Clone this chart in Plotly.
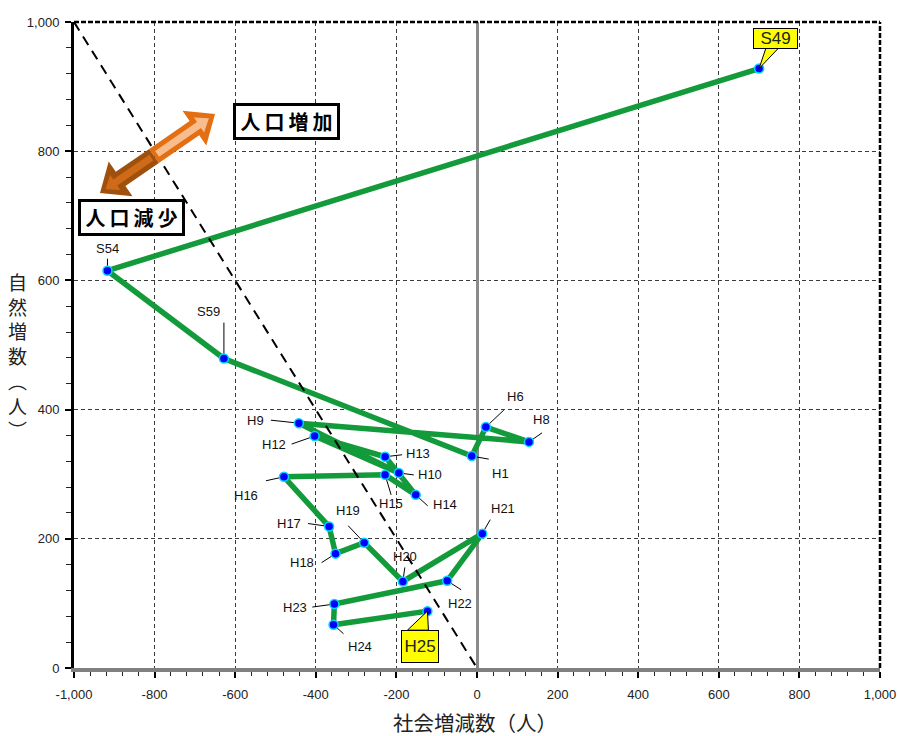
import math
import plotly.graph_objects as go

# ---------------- data ----------------
labels = ["S49", "S54", "S59", "H1", "H6", "H8", "H9", "H10", "H12", "H13", "H14",
          "H15", "H16", "H17", "H18", "H19", "H20", "H21", "H22", "H23", "H24", "H25"]
social_change = [700, -917, -628, -13, 22, 129, -442, -194, -403, -228, -152,
                 -228, -479, -367, -351, -280, -184, 13, -74, -354, -356, -123]
natural_change = [928, 615, 479, 328, 373, 350, 379, 302, 359, 327, 268,
                  299, 296, 219, 177, 194, 134, 208, 135, 99, 67, 88]

x_tick_values = [-1000, -800, -600, -400, -200, 0, 200, 400, 600, 800, 1000]
x_tick_text = ["-1,000", "-800", "-600", "-400", "-200", "0", "200", "400", "600", "800", "1,000"]
y_tick_values = [0, 200, 400, 600, 800, 1000]
y_tick_text = ["0", "200", "400", "600", "800", "1,000"]

# break-even line: social + natural = 0
balance_x = [-1000, 0]
balance_y = [-v for v in balance_x]

callout_labels = ["S49", "H25"]

# ---------------- label placement (pixel offsets: text dx,dy ; leader start dx,dy) ----------------
label_offsets = {
    "S54": (0, 22, 0, 12),
    "S59": (-15, 47, 0, 36),
    "H1": (29, -17, 17, -3),
    "H6": (30, 31, 18, 17),
    "H8": (13, 22, 13, 9),
    "H9": (-43, 3, -28, 3),
    "H10": (31, -2, 15, -2),
    "H12": (-41, -8, -23, -8),
    "H13": (33, 3, 17, 2),
    "H14": (29, -10, 12, -11),
    "H15": (6, -29, 6, -20),
    "H16": (-38, -19, -18, -4),
    "H17": (-40, 3, -21, 3),
    "H18": (-34, -9, -14, -9),
    "H19": (-16, 32, -16, 17),
    "H20": (2, 25, 2, 14),
    "H21": (21, 25, 8, 14),
    "H22": (13, -23, 14, -9),
    "H23": (-39, -3, -22, -3),
    "H24": (26, -22, 10, -9),
}
# callout: box centre offset, box size, wedge base
callout_style = {
    "S49": dict(dx=16, dy=30, w=41, h=17, wedge=[(7, 21), (20, 21)]),
    "H25": dict(dx=-7, dy=-35, w=34, h=29, wedge=[(-20, -19), (1, -19)]),
}

LINE_GREEN = "#129A3B"
FONT_LAT = "Liberation Sans, Arial, sans-serif"
FONT_JP = "Noto Sans CJK JP, sans-serif"

fig = go.Figure()

fig.add_trace(go.Scatter(
    x=social_change, y=natural_change, mode="lines",
    line=dict(color=LINE_GREEN, width=5.5), hoverinfo="skip"))
fig.add_trace(go.Scatter(
    x=balance_x, y=balance_y, mode="lines",
    line=dict(color="black", width=2, dash="10px,7px"), hoverinfo="skip"))
fig.add_trace(go.Scatter(
    x=social_change, y=natural_change, mode="markers", text=labels,
    marker=dict(color="#0000FF", size=9, line=dict(color="#00D8FF", width=1.5))))

shapes = []
annotations = []

# point labels + leader lines
for lab, xv, yv in zip(labels, social_change, natural_change):
    if lab in label_offsets:
        tdx, tdy, ldx, ldy = label_offsets[lab]
        annotations.append(dict(
            x=xv, y=yv, xref="x", yref="y", text=lab, showarrow=False,
            xshift=tdx, yshift=tdy, xanchor="center", yanchor="middle",
            font=dict(family=FONT_LAT, size=13, color="#111")))
        shapes.append(dict(
            type="line", xref="x", yref="y", xsizemode="pixel", ysizemode="pixel",
            xanchor=xv, yanchor=yv, x0=ldx, y0=ldy, x1=0, y1=0,
            line=dict(color="black", width=1), layer="between"))
    if lab in callout_labels:
        st = callout_style[lab]
        (ax1, ay1), (ax2, ay2) = st["wedge"]
        shapes.append(dict(
            type="path", xref="x", yref="y", xsizemode="pixel", ysizemode="pixel",
            xanchor=xv, yanchor=yv, path=f"M0,0 L{ax1},{ay1} L{ax2},{ay2} Z",
            fillcolor="#FFFF00", line=dict(color="black", width=1), layer="above"))
        annotations.append(dict(
            x=xv, y=yv, xref="x", yref="y", text=lab, showarrow=False,
            xshift=st["dx"], yshift=st["dy"], xanchor="center", yanchor="middle",
            width=st["w"], height=st["h"], bgcolor="#FFFF00", bordercolor="black",
            borderwidth=1, borderpad=1,
            font=dict(family=FONT_LAT, size=17, color="#222")))

# plot-area geometry in pixels
PL, PT, PW, PH = 74, 22, 806, 646


def arrow_poly(tail, tip, half_shaft, half_head, head_len):
    dx, dy = tip[0] - tail[0], tip[1] - tail[1]
    ln = math.hypot(dx, dy)
    ux, uy = dx / ln, dy / ln
    nx, ny = -uy, ux
    bx, by = tip[0] - ux * head_len, tip[1] - uy * head_len
    pts = [
        (tail[0] + nx * half_shaft, tail[1] + ny * half_shaft),
        (bx + nx * half_shaft, by + ny * half_shaft),
        (bx + nx * half_head, by + ny * half_head),
        tip,
        (bx - nx * half_head, by - ny * half_head),
        (bx - nx * half_shaft, by - ny * half_shaft),
        (tail[0] - nx * half_shaft, tail[1] - ny * half_shaft),
    ]
    return "M" + " L".join(f"{p[0] - PL:.1f},{PT - p[1]:.1f}" for p in pts) + " Z"


def inset(a, b, t):
    return (a[0] + (b[0] - a[0]) * t, a[1] + (b[1] - a[1]) * t)


up_tip = (215, 114)
low_tip = (100, 193)
mid = inset(low_tip, up_tip, 0.47)

arrow_parts = [
    (arrow_poly(mid, up_tip, 8.5, 21, 25), "#E46F12"),
    (arrow_poly(mid, low_tip, 8.5, 21, 25), "#A0500D"),
    (arrow_poly(inset(mid, up_tip, 0.05), inset(up_tip, mid, 0.1), 3.5, 9, 12), "#F9BC8C"),
    (arrow_poly(inset(mid, low_tip, 0.05), inset(low_tip, mid, 0.1), 3.5, 9, 12), "#CF6A18"),
]
for path, col in arrow_parts:
    shapes.append(dict(
        type="path", xref="paper", yref="paper", xsizemode="pixel", ysizemode="pixel",
        xanchor=0, yanchor=1, path=path, fillcolor=col, line=dict(width=0), layer="above"))

# top / right dashed frame
shapes.append(dict(type="line", xref="paper", yref="paper", x0=0, x1=1, y0=1, y1=1,
                   line=dict(color="black", width=2.5, dash="5px,2px"), layer="above"))
shapes.append(dict(type="line", xref="paper", yref="paper", x0=1, x1=1, y0=0, y1=1,
                   line=dict(color="black", width=2.5, dash="5px,2px"), layer="above"))


def paper_x(px):
    return (px - PL) / PW


def paper_y(py):
    return (PT + PH - py) / PH


# boxed captions
for txt, cx, cy in [("人\u2009口\u2009増\u2009加", 286.5, 121.5), ("人\u2009口\u2009減\u2009少", 131, 217.5)]:
    annotations.append(dict(
        x=paper_x(cx), y=paper_y(cy), xref="paper", yref="paper", text=txt,
        showarrow=False, xanchor="center", yanchor="middle",
        width=101, height=31, bgcolor="white", bordercolor="black",
        borderwidth=3, borderpad=0,
        font=dict(family=FONT_JP, size=20, color="black", weight="bold")))

# axis titles
annotations.append(dict(
    x=paper_x(475), y=paper_y(722), xref="paper", yref="paper",
    text="社会増減数（人）", showarrow=False, xanchor="center", yanchor="middle",
    font=dict(family=FONT_JP, size=20.5, color="#222")))
annotations.append(dict(
    x=paper_x(17), y=paper_y(355), xref="paper", yref="paper",
    text="自<br>然<br>増<br>数<br>︵<br>人<br>︶", showarrow=False,
    xanchor="center", yanchor="middle",
    font=dict(family=FONT_JP, size=19, color="#222")))

grid_common = dict(showgrid=True, gridcolor="#3a3a3a", gridwidth=1, griddash="4px,3px")

fig.update_layout(
    template="none",
    width=899, height=736,
    margin=dict(l=PL, r=899 - PL - PW, t=PT, b=736 - PT - PH, autoexpand=False),
    paper_bgcolor="white", plot_bgcolor="white",
    showlegend=False,
    shapes=shapes, annotations=annotations,
    xaxis=dict(
        automargin=False,
        range=[-1000, 1000], tickmode="array", tickvals=x_tick_values, ticktext=x_tick_text,
        **grid_common,
        zeroline=True, zerolinecolor="#8a8a8a", zerolinewidth=3,
        showline=True, linecolor="#808080", linewidth=4,
        ticks="outside", ticklen=6, tickwidth=2, tickcolor="black",
        minor=dict(dtick=40, tick0=0, ticks="outside", ticklen=4, tickwidth=1,
                   tickcolor="#222", showgrid=False),
        tickfont=dict(family=FONT_LAT, size=13, color="#222"),
        ticklabelstandoff=5, fixedrange=True),
    yaxis=dict(
        automargin=False,
        range=[0, 1000], tickmode="array", tickvals=y_tick_values, ticktext=y_tick_text,
        **grid_common,
        zeroline=False,
        showline=True, linecolor="black", linewidth=3,
        ticks="outside", ticklen=6, tickwidth=2, tickcolor="black",
        minor=dict(dtick=40, tick0=0, ticks="outside", ticklen=5, tickwidth=1,
                   tickcolor="#222", showgrid=False),
        tickfont=dict(family=FONT_LAT, size=13, color="#222"),
        ticklabelstandoff=3, fixedrange=True),
)

fig.write_html("out.html", config={"displayModeBar": False},
               post_script="document.body.style.margin='0';document.body.style.overflow='hidden';")
